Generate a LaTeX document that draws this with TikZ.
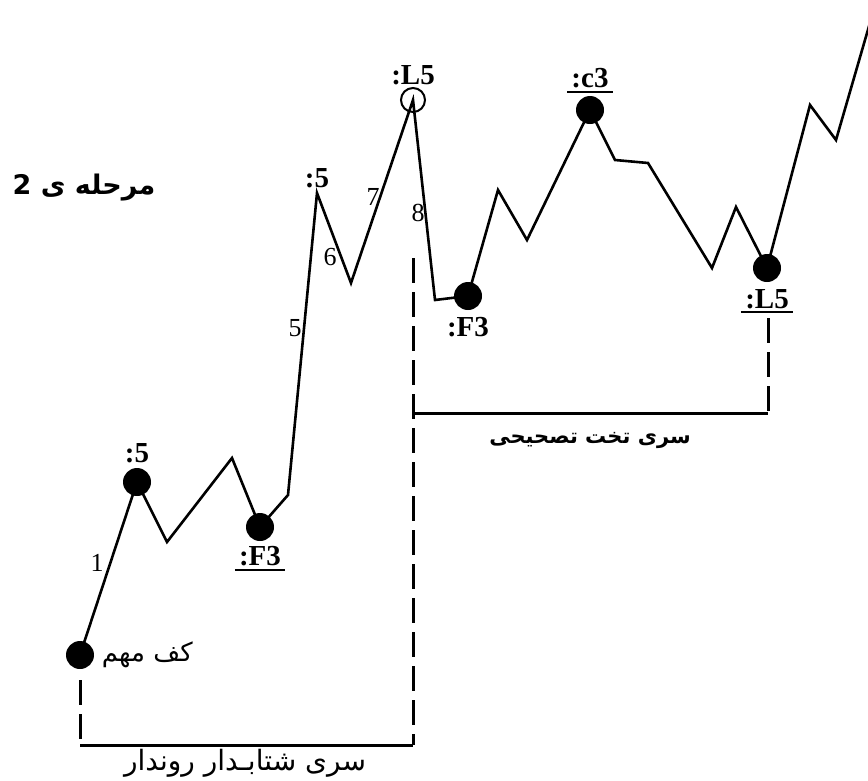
\documentclass[tikz,border=0pt]{standalone}
\usepackage{fontspec}
\setmainfont{Liberation Serif}
\newfontfamily\farsi[Script=Arabic]{DejaVu Sans}
\TeXXeTstate=1
\usetikzlibrary{positioning}

\begin{document}
\begin{tikzpicture}[x=1pt,y=-1pt,line width=2.6pt,line join=miter,
  dot/.style={circle,fill,inner sep=0pt,minimum size=28pt},
  ring/.style={circle,draw,line width=2pt,inner sep=0pt,minimum size=24pt},
  lbl/.style={font=\bfseries\fontsize{29}{31}\selectfont,inner sep=0pt},
  num/.style={font=\fontsize{26}{28}\selectfont,inner sep=0pt},
  fa/.style={font=\farsi\fontsize{26}{30}\selectfont},
  fab/.style={font=\farsi\bfseries\fontsize{21}{25}\selectfont},
  brk/.style={line width=3pt,dash pattern=on 25pt off 9pt},
  uline/.style={line width=2pt}]
  \useasboundingbox (0,0) rectangle (868,780);
  \clip (0,0) rectangle (868,780);
  % points of the wave
  \foreach \px/\py [count=\i from 0] in {80/655,137/482,167/542,232/458,
      260/527,288/495,317/193,351/283,413/100,435/300,468/296,498/190,
      527/240,590/110,615/160,648/163,712/268,736/207,767/268,810/105,
      836/140,876/2}
    \coordinate (w\i) at (\px,\py);
  \draw (w0) \foreach \i in {1,...,21}{ -- (w\i)};
  \foreach \i in {0,1,4,10,13,18}
    \node[dot] (d\i) at (w\i) {};
  \node[ring] (top) at (w8) {};

  % labels of the points
  \node[lbl,above=2pt of d1] (l1) {:5};
  \node[lbl,below=1pt of d4,inner xsep=3pt,inner ysep=2pt] (l4) {:F3};
  \draw[uline] (l4.south west) -- (l4.south east);
  \node[lbl,above=4pt of w6] (l6) {:5};
  \node[lbl,above=1pt of top] (l8) {:L5};
  \node[lbl,below=5pt of d10] (l10) {:F3};
  \node[lbl,above=3pt of d13,inner xsep=3pt,inner ysep=2pt] (l13) {:c3};
  \draw[uline] (l13.south west) -- (l13.south east);
  \node[lbl,below=3pt of d18,inner xsep=3pt,inner ysep=2pt] (l18) {:L5};
  \draw[uline] (l18.south west) -- (l18.south east);

  % wave numbers
  \node[num] (n1) at (97,563) {1};
  \node[num] (n5) at (295,328) {5};
  \node[num] (n6) at (330,257) {6};
  \node[num] (n7) at (373,197) {7};
  \node[num] (n8) at (418,213) {8};

  % brackets
  \coordinate (b1) at (80,680);
  \coordinate (b2) at (80,745);
  \coordinate (b3) at (413,745);
  \coordinate (b4) at (413,258);
  \coordinate (b5) at (413,413);
  \coordinate (b6) at (768,413);
  \coordinate (b7) at (768,318);
  \draw[brk] (b1) -- (b2);
  \draw[line width=3pt] (b2) -- (b3);
  \draw[brk] (b4) -- (b3);
  \draw[line width=3pt] (b5) -- (b6);
  \draw[brk] (b7) -- (b6);

  % persian texts
  \node[fab,font=\farsi\bfseries\fontsize{27}{30}\selectfont] (title) at (84,188) {\beginR مرحله ی 2\endR};
  \node[fa,right=2pt of d0] (kaf) {\beginR کف مهم\endR};
  \node[fa,font=\farsi\fontsize{28}{32}\selectfont] (trend) at (245,763) {\beginR سری شتابـدار روندار\endR};
  \node[fab] (flat) at (590,440) {\beginR سری تخت تصحیحی\endR};
\end{tikzpicture}
\end{document}
